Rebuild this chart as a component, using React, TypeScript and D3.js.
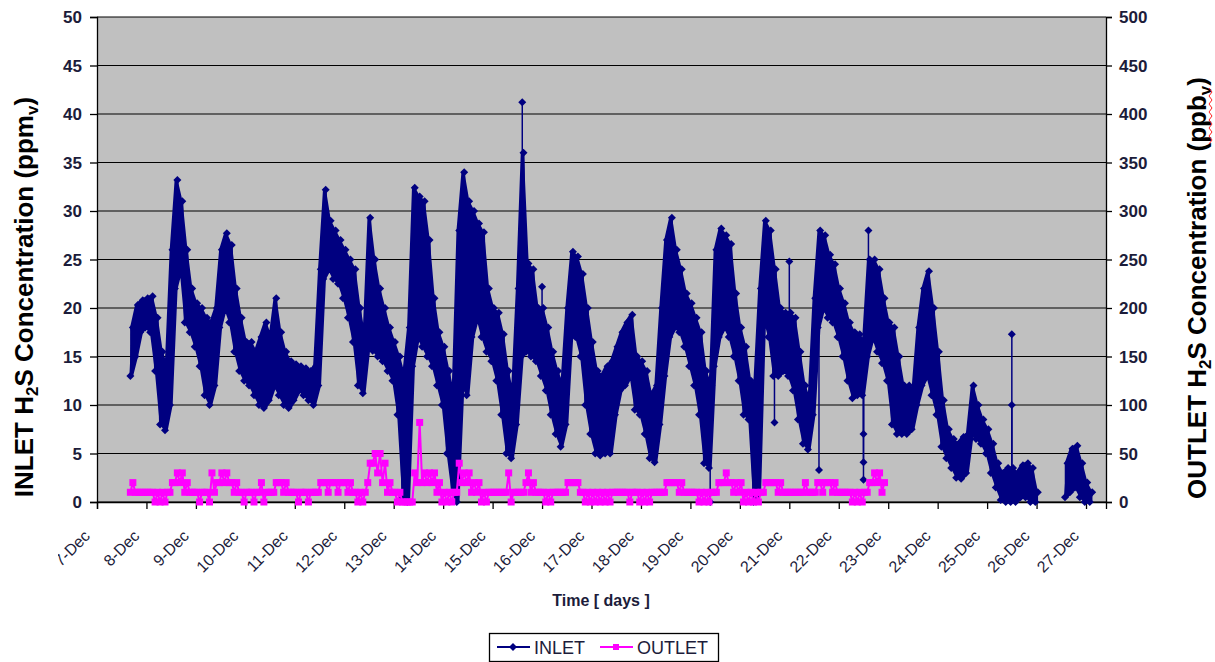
import React, { useEffect, useRef } from 'react';
import * as d3 from 'd3';

// sampling of the read-off trace: days after 7-Dec, every 0.1 day
const startDate = new Date(2006, 11, 7);
const endDate = new Date(2006, 11, 27, 9, 42);
const sampleStart = 0.7;
const sampleStep = 0.1;

// INLET H2S (ppmv), lower and upper edge of the dense band at each sample
const inletLow: (number | null)[] = [
  13, 15, 17.5,
  18, 17.5, 13.5, 8, 7.4, 10, 22, 24, 18.5, 17.5,
  16, 14, 11, 10, 12, 18, 20, 18.5, 15.5, 13.5,
  12.5, 12, 11, 10, 9.7, 10.5, 12, 11, 10, 9.7,
  10.5, 11.5, 11, 10.5, 10, 12, 23, 24, 23, 22.5,
  21, 19, 16.5, 12, 11.2, 16, 15.6, 15, 14.5, 13.5,
  12.5, 9, 0.5, 0, 14, 17, 16, 15, 14, 12,
  10, 5, 1, 0, 12, 11, 17, 19, 17, 15.5,
  14.5, 12.5, 9, 5, 4.5, 8, 15, 15.5, 15, 14.5,
  13, 11.5, 9, 7, 5.7, 8, 17, 17, 15, 10,
  7, 5, 4.8, 5, 5, 9, 11.5, 12, 13, 9.5,
  9, 7, 4.5, 4.1, 8, 13, 17, 18, 17.5, 16,
  14, 12, 9, 4, 3.5, 14, 17, 18, 17, 15,
  12.5, 9, 8.5, 0, 1, 19, 17, 13, 13, 13.5,
  13, 11.5, 8.5, 6, 5.4, 9, 18, 20, 19, 18.5,
  17, 15, 12.5, 10.7, 11, 11, 15, 17, 15.5, 14.3,
  12.5, 8, 7, 7, 7, 7.5, 10, 12, 13, 11,
  9, 5.7, 4.5, 3.5, 2.5, 2.4, 3, 7, 6.5, 6,
  5, 3, 1.5, 0.2, 0, 0, 0, 0.5, 0.5, 0,
  0, null, null, null, null, null, 0.5, 1, 1.5, 0.5,
  0, 0,
];
const inletHigh: (number | null)[] = [
  18, 20.3, 20.8,
  21, 21.2, 19, 15.5, 14, 26, 33.2, 31, 26, 22,
  20.5, 20, 19, 18.5, 20, 26, 27.7, 26.5, 22, 19,
  16.5, 16.5, 15.5, 17, 18.5, 17, 21, 17.5, 15.5, 14.5,
  14.2, 14, 13.8, 13.5, 14, 24, 32.2, 29, 28, 27,
  26, 25, 24, 20, 17, 29.3, 25, 22, 20, 18,
  16.5, 15, 13, 18, 32.4, 31.5, 31, 27, 21, 17.5,
  16, 13.5, 11, 28, 34, 31, 30, 28.7, 27.8, 22,
  20, 19.5, 17.3, 13.5, 11, 22, 36, 24.6, 24, 20,
  20, 18, 15.5, 13.5, 12, 20, 25.8, 25.3, 23.5, 20,
  16.5, 13.5, 13, 14, 14.5, 16, 17.5, 18.5, 19.3, 15,
  14.5, 13.5, 11, 12, 20, 27, 29.3, 26, 24, 21.5,
  20.5, 19, 17.5, 13.5, 12, 26, 28.2, 27.5, 26.6, 21.5,
  18, 16, 12.5, 12, 22, 29, 28, 24, 20, 19.5,
  19.5, 19, 15.5, 12, 10.5, 21, 28, 27.5, 25.5, 24.5,
  22, 20.5, 18.5, 17.5, 17.3, 16.5, 25, 25, 24, 21,
  18.5, 18, 15, 12, 12, 11.5, 18, 22, 23.8, 20,
  15.5, 10.5, 7.5, 6.5, 6, 6.7, 7, 12, 10, 8.5,
  7.5, 6, 4, 3, 3.5, 3.5, 3, 3.8, 4, 3.5,
  1, null, null, null, null, null, 4, 5.5, 5.8, 4,
  2, 1,
];

// isolated INLET readings that stick out of the band as thin lines
const inletSpikeDays = [8.6, 9.0, 12.4, 13.7, 14.0, 14.6, 15.5, 15.5, 15.5, 15.6, 18.5, 18.5];
const inletSpikeValues = [41.2, 22.2, 0, 8.2, 24.8, 3.3, 7, 4.1, 2.3, 28, 10, 17.3];

// OUTLET H2S (ppbv), lower and upper edge at each sample
const outletLow: number[] = [
  10, 10, 10,
  10, 10, 0, 0, 0, 10, 20, 20, 10, 10,
  10, 0, 10, 0, 10, 20, 20, 20, 10, 10,
  0, 10, 0, 10, 0, 10, 10, 20, 10, 10,
  10, 0, 10, 0, 10, 10, 20, 10, 20, 10,
  20, 10, 10, 0, 0, 20, 40, 30, 20, 10,
  10, 0, 0, 0, 0, 20, 20, 20, 20, 10,
  0, 0, 0, 10, 20, 20, 10, 10, 0, 0,
  10, 10, 10, 10, 0, 10, 10, 20, 10, 10,
  10, 0, 0, 10, 10, 10, 20, 20, 10, 0,
  0, 0, 0, 0, 0, 10, 10, 10, 0, 10,
  0, 0, 0, 10, 10, 10, 20, 20, 10, 10,
  10, 10, 0, 0, 0, 10, 20, 20, 20, 10,
  10, 0, 0, 0, 0, 10, 20, 20, 10, 10,
  10, 10, 10, 10, 10, 10, 20, 10, 20, 10,
  10, 10, 10, 0, 0, 0, 10, 20, 20, 10,
];
const outletHigh: number[] = [
  20, 10, 10,
  10, 10, 10, 10, 10, 20, 30, 30, 20, 10,
  10, 10, 10, 30, 20, 30, 30, 20, 20, 10,
  10, 10, 10, 20, 10, 10, 20, 20, 20, 10,
  10, 10, 10, 10, 10, 20, 20, 20, 20, 20,
  20, 20, 10, 10, 10, 40, 50, 50, 40, 20,
  10, 10, 0, 0, 30, 82, 30, 30, 30, 20,
  10, 10, 10, 40, 30, 30, 20, 20, 10, 10,
  10, 10, 10, 30, 10, 10, 10, 30, 20, 10,
  10, 10, 10, 10, 10, 20, 20, 20, 10, 10,
  10, 10, 10, 10, 10, 10, 10, 10, 10, 10,
  10, 10, 10, 10, 10, 20, 20, 20, 20, 10,
  10, 10, 10, 10, 10, 10, 20, 30, 20, 20,
  20, 10, 10, 10, 10, 20, 20, 20, 20, 10,
  10, 10, 10, 20, 10, 10, 20, 20, 20, 20,
  10, 10, 10, 10, 10, 10, 20, 30, 30, 20,
];

const inletTicks = [0, 5, 10, 15, 20, 25, 30, 35, 40, 45, 50];
const outletTicks = [0, 50, 100, 150, 200, 250, 300, 350, 400, 450, 500];

type Band = { t: Date; lo: number | null; hi: number | null };
type Pt = { t: Date; v: number } | null;

const dayToDate = (d: number) => new Date(+startDate + d * 864e5);

const toBand = (low: (number | null)[], high: (number | null)[]): Band[] =>
  low.map((lo, i) => ({ t: dayToDate(sampleStart + i * sampleStep), lo, hi: high[i] }));

// zigzag between the two edges, like the dense original trace
const toZigzag = (low: (number | null)[], high: (number | null)[]): Pt[] => {
  const pts: Pt[] = [];
  low.forEach((lo, i) => {
    const hi = high[i];
    const d = sampleStart + i * sampleStep;
    if (lo == null || hi == null) {
      pts.push(null);
      return;
    }
    pts.push({ t: dayToDate(d - 0.025), v: lo }, { t: dayToDate(d + 0.025), v: hi });
  });
  return pts;
};

const W = 1215;
const H = 662;
const margin = { top: 17, right: 109, bottom: 160, left: 97 };
const font = 'Arial, "Liberation Sans", sans-serif';
const textColor = '#1c1c3a';
const navy = '#000080';
const magenta = '#ff00ff';
const diamond = 'M0,-4L4,0L0,4L-4,0Z';

const App: React.FC = () => {
  const svgRef = useRef<SVGSVGElement | null>(null);

  useEffect(() => {
    document.body.style.margin = '0';
    const x0 = margin.left;
    const x1 = W - margin.right;
    const y0 = H - margin.bottom;
    const y1 = margin.top;

    const x = d3.scaleTime().domain([startDate, endDate]).range([x0, x1]);
    const yL = d3.scaleLinear().domain([0, 50]).range([y0, y1]);
    const yR = d3.scaleLinear().domain([0, 500]).range([y0, y1]);

    const svg = d3.select(svgRef.current).attr('width', W).attr('height', H);
    svg.selectAll('*').remove();

    svg.append('rect')
      .attr('x', x0).attr('y', y1)
      .attr('width', x1 - x0).attr('height', y0 - y1)
      .attr('fill', '#c0c0c0');

    // gridlines
    svg.append('g')
      .selectAll('line')
      .data(inletTicks)
      .join('line')
      .attr('x1', x0).attr('x2', x1)
      .attr('y1', d => yL(d)).attr('y2', d => yL(d))
      .attr('stroke', '#000').attr('stroke-width', 1);

    // left and right axes
    const gl = svg.append('g').attr('transform', `translate(${x0},0)`)
      .call(d3.axisLeft(yL).tickValues(inletTicks).tickSize(7).tickPadding(8));
    const gr = svg.append('g').attr('transform', `translate(${x1},0)`)
      .call(d3.axisRight(yR).tickValues(outletTicks).tickSize(6).tickPadding(7));
    [gl, gr].forEach(g => {
      g.select('.domain').attr('stroke', '#000').attr('stroke-width', 1.3);
      g.selectAll('.tick line').attr('stroke', '#000').attr('stroke-width', 1.3);
      g.selectAll('.tick text')
        .attr('font-family', font).attr('font-size', 17).attr('font-weight', 'bold')
        .attr('fill', textColor).attr('dy', '0.35em');
    });

    // bottom axis
    const days = d3.timeDay.range(startDate, endDate);
    const gb = svg.append('g').attr('transform', `translate(0,${y0})`)
      .call(d3.axisBottom(x).tickValues(days).tickSize(7).tickFormat(() => ''));
    gb.select('.domain').attr('stroke', '#000').attr('stroke-width', 1.3);
    gb.selectAll('.tick line').attr('stroke', '#000').attr('stroke-width', 1.3);

    svg.append('clipPath').attr('id', 'xlabClip')
      .append('rect').attr('x', 58).attr('y', y0).attr('width', W).attr('height', 100);
    const fmt = d3.timeFormat('%-d-%b');
    svg.append('g').attr('clip-path', 'url(#xlabClip)')
      .selectAll('text')
      .data(days)
      .join('text')
      .attr('transform', d => `translate(${x(d) - 6},${y0 + 35}) rotate(-45)`)
      .attr('text-anchor', 'end')
      .attr('font-family', font).attr('font-size', 16)
      .attr('fill', textColor)
      .text(d => fmt(d));

    // INLET: dense band, its edges, and the isolated spikes
    const inletBand = toBand(inletLow, inletHigh);
    const area = d3.area<Band>()
      .defined(b => b.lo != null && b.hi != null)
      .x(b => x(b.t))
      .y0(b => yL(b.lo as number))
      .y1(b => yL(b.hi as number));
    svg.append('path')
      .datum(inletBand)
      .attr('fill', navy).attr('stroke', navy).attr('stroke-width', 3)
      .attr('stroke-linejoin', 'round')
      .attr('d', area);
    const inletZig = toZigzag(inletLow, inletHigh);
    svg.append('path')
      .datum(inletZig)
      .attr('fill', 'none').attr('stroke', navy).attr('stroke-width', 2)
      .attr('d', d3.line<Pt>().defined(p => p != null).x(p => x(p!.t)).y(p => yL(p!.v)));
    svg.append('g')
      .selectAll('path')
      .data(inletZig.filter(p => p != null))
      .join('path')
      .attr('transform', p => `translate(${x(p!.t)},${yL(p!.v)})`)
      .attr('d', diamond)
      .attr('fill', navy);

    const spikes = inletSpikeDays.map((d, i) => {
      const idx = Math.round((d - sampleStart) / sampleStep);
      const v = inletSpikeValues[i];
      const hi = inletHigh[idx] as number;
      const lo = inletLow[idx] as number;
      return { t: dayToDate(d), v, base: v > hi ? hi : lo };
    });
    const sg = svg.append('g');
    sg.selectAll('line')
      .data(spikes)
      .join('line')
      .attr('x1', s => x(s.t)).attr('x2', s => x(s.t))
      .attr('y1', s => yL(s.base)).attr('y2', s => yL(s.v))
      .attr('stroke', navy).attr('stroke-width', 1.5);
    sg.selectAll('path')
      .data(spikes)
      .join('path')
      .attr('transform', s => `translate(${x(s.t)},${yL(s.v)})`)
      .attr('d', diamond)
      .attr('fill', navy);

    // OUTLET
    const outletPts = toZigzag(outletLow, outletHigh);
    svg.append('path')
      .datum(outletPts)
      .attr('fill', 'none').attr('stroke', magenta).attr('stroke-width', 2)
      .attr('d', d3.line<Pt>().defined(p => p != null).x(p => x(p!.t)).y(p => yR(p!.v)));
    svg.append('g')
      .selectAll('rect')
      .data(outletPts.filter(p => p != null))
      .join('rect')
      .attr('x', p => x(p!.t) - 3.5).attr('y', p => yR(p!.v) - 3.5)
      .attr('width', 7).attr('height', 7)
      .attr('fill', magenta);

    // axis titles
    const leftTitle = svg.append('text')
      .attr('transform', `translate(33,297) rotate(-90)`)
      .attr('text-anchor', 'middle')
      .attr('font-family', font).attr('font-size', 26).attr('font-weight', 'bold')
      .attr('fill', '#000');
    leftTitle.append('tspan').text('INLET H');
    leftTitle.append('tspan').attr('font-size', 17).attr('dy', 5).text('2');
    leftTitle.append('tspan').attr('dy', -5).text('S Concentration (ppm');
    leftTitle.append('tspan').attr('font-size', 17).attr('dy', 5).text('v');
    leftTitle.append('tspan').attr('dy', -5).text(')');

    const rightTitle = svg.append('text')
      .attr('transform', `translate(1206,288) rotate(-90)`)
      .attr('text-anchor', 'middle')
      .attr('font-family', font).attr('font-size', 26).attr('font-weight', 'bold')
      .attr('fill', '#000');
    rightTitle.append('tspan').text('OUTLET H');
    rightTitle.append('tspan').attr('font-size', 17).attr('dy', 5).text('2');
    rightTitle.append('tspan').attr('dy', -5).text('S Concentration (ppb');
    rightTitle.append('tspan').attr('font-size', 17).attr('dy', 5).text('v');
    rightTitle.append('tspan').attr('dy', -5).text(')');

    // spell-check squiggle under "ppbv"
    const wave = d3.path();
    wave.moveTo(1209, 88);
    for (let yy = 88; yy < 142; yy += 4) {
      wave.lineTo(yy % 8 === 0 ? 1212 : 1209, yy + 4);
    }
    svg.append('path').attr('d', wave.toString())
      .attr('fill', 'none').attr('stroke', '#ff2020').attr('stroke-width', 1);

    svg.append('text')
      .attr('x', 601).attr('y', 606)
      .attr('text-anchor', 'middle')
      .attr('font-family', font).attr('font-size', 16).attr('font-weight', 'bold')
      .attr('fill', textColor)
      .text('Time [ days ]');

    // legend
    const lg = svg.append('g');
    lg.append('rect')
      .attr('x', 489.5).attr('y', 633.5).attr('width', 229).attr('height', 28)
      .attr('fill', '#fff').attr('stroke', '#000').attr('stroke-width', 1.3);
    lg.append('line').attr('x1', 497).attr('x2', 530).attr('y1', 647).attr('y2', 647)
      .attr('stroke', navy).attr('stroke-width', 2);
    lg.append('path').attr('d', diamond).attr('transform', 'translate(513,647)').attr('fill', navy);
    lg.append('text').attr('x', 534).attr('y', 654)
      .attr('font-family', font).attr('font-size', 18).attr('fill', textColor).text('INLET');
    lg.append('line').attr('x1', 600).attr('x2', 633).attr('y1', 647).attr('y2', 647)
      .attr('stroke', magenta).attr('stroke-width', 2);
    lg.append('rect').attr('x', 613).attr('y', 644).attr('width', 6).attr('height', 6).attr('fill', magenta);
    lg.append('text').attr('x', 637).attr('y', 654)
      .attr('font-family', font).attr('font-size', 18).attr('fill', textColor).text('OUTLET');
  }, []);

  return <svg ref={svgRef}></svg>;
};

export default App;
